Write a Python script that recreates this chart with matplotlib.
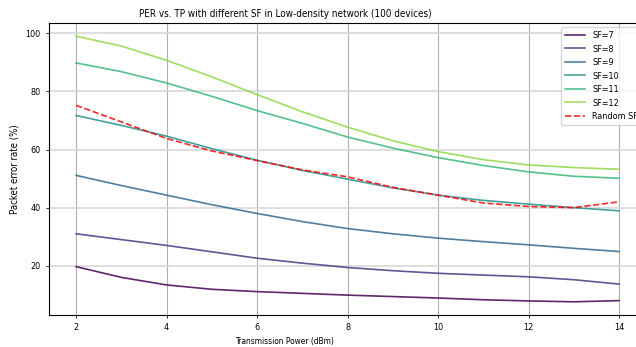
import matplotlib
matplotlib.use("Agg")
import matplotlib.pyplot as plt
import numpy as np

tp = [2, 3, 4, 5, 6, 7, 8, 9, 10, 11, 12, 13, 14]

sf7 = [19.7, 16.0, 13.4, 11.9, 11.1, 10.5, 9.9, 9.4, 8.9, 8.3, 7.9, 7.6, 8.0]
sf8 = [31.0, 29.0, 27.0, 24.8, 22.6, 20.9, 19.4, 18.3, 17.4, 16.8, 16.2, 15.2, 13.7]
sf9 = [51.1, 47.6, 44.3, 41.0, 38.0, 35.2, 32.8, 31.0, 29.5, 28.3, 27.2, 26.0, 24.9]
sf10 = [71.7, 68.3, 64.6, 60.3, 56.3, 52.8, 49.8, 46.8, 44.3, 42.5, 41.2, 40.0, 38.9]
sf11 = [89.8, 86.8, 82.9, 78.3, 73.4, 69.0, 64.3, 60.5, 57.2, 54.5, 52.3, 50.8, 50.1]
sf12 = [99.0, 95.6, 90.7, 85.0, 78.9, 73.0, 67.7, 63.0, 59.3, 56.5, 54.7, 53.8, 53.2]
random_sf = [75.2, 69.5, 63.8, 59.5, 56.2, 53.0, 50.6, 47.0, 44.3, 41.6, 40.4, 40.0, 42.0]

series = [sf7, sf8, sf9, sf10, sf11, sf12]
labels = ["SF=7", "SF=8", "SF=9", "SF=10", "SF=11", "SF=12"]

plt.rcParams["font.family"] = "DejaVu Sans"
plt.rcParams["font.stretch"] = "condensed"

colors = plt.cm.viridis(np.linspace(0, 1, 7))[:6]

fig = plt.figure(figsize=(6.36, 3.47), dpi=100)
ax = fig.add_axes([0.077, 0.092, 0.939, 0.842])

for s, lab, c in zip(series, labels, colors):
    ax.plot(tp, s, color=c, label=lab, lw=1.2, alpha=0.85)
ax.plot(tp, random_sf, "--", color="red", label="Random SF", lw=1.2, alpha=0.85)

ax.grid(axis="x", color="#b0b0b0", lw=0.8)
ax.grid(axis="y", color="#d8d8d8", lw=1.2)
ax.set_xticks(range(2, 15, 2))
ax.tick_params(labelsize=6.5, length=2.5, width=0.6)
for sp in ax.spines.values():
    sp.set_linewidth(0.8)

ax.set_title("PER vs. TP with different SF in Low-density network (100 devices)",
             fontsize=7.1, x=0.395, pad=4.5)
ax.set_xlabel("Transmission Power (dBm)", fontsize=6)
ax.xaxis.set_label_coords(0.395, -0.075)
ax.set_ylabel("Packet error rate (%)", fontsize=6.9)
ax.legend(loc="upper right", fontsize=6.5, handlelength=2.2, framealpha=0.8)

fig.savefig("out.png", dpi=100)
